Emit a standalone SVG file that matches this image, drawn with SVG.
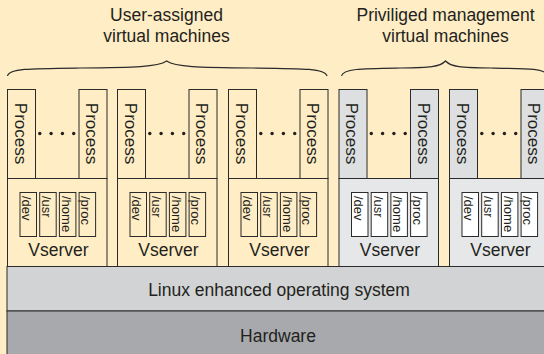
<svg xmlns="http://www.w3.org/2000/svg" width="544" height="354" viewBox="0 0 544 354">
<defs>
<style>
.bg{fill:#FFEDC5}
.t{font-family:"Liberation Sans",Arial,sans-serif;fill:#231F20}
.lbl{font-size:17.5px;text-anchor:middle}
.proc{font-size:17px;text-anchor:middle}
.dir{font-size:13px}
.box{stroke:#2B2B2B;stroke-width:1}
.u{fill:#FFEDC5}
.pp{fill:#DEDFE0}
.pv{fill:#E6E7E8}
.pd{fill:#FFFFFF}
.brace{fill:none;stroke:#2B2B2B;stroke-width:1.2}
.dot{fill:#231F20}
</style>
<g id="vmtpl-dots">
<circle class="dot" cx="32.3" cy="133.5" r="1.7"/>
<circle class="dot" cx="43.6" cy="133.5" r="1.7"/>
<circle class="dot" cx="54.9" cy="133.5" r="1.7"/>
<circle class="dot" cx="66.2" cy="133.5" r="1.7"/>
</g>
</defs>
<rect class="bg" x="0" y="0" width="544" height="354"/>

<g id="label-user">
<text class="t lbl" x="166.5" y="21">User-assigned</text>
<text class="t lbl" x="166.5" y="42">virtual machines</text>
</g>
<g id="label-priv">
<text class="t lbl" x="445.5" y="21">Priviliged management</text>
<text class="t lbl" x="445.5" y="42">virtual machines</text>
</g>
<g id="braces">
<path class="brace" d="M7.5,76 C9,68.5 30,68.5 80,68 C135,67.5 158,67 166.7,61 C175,67 198,67.5 253,68 C303,68.5 325,68.5 327,76"/>
<path class="brace" d="M341.5,76 C343,68.5 362,68.5 400,68 C430,67.5 440,67 445.5,61 C451,67 461,67.5 491,68 C529,68.5 546,68.5 548,76"/>
</g>

<g id="vm1" transform="translate(7.5,0)">
<rect class="box u" x="0" y="89.5" width="28" height="89"/>
<rect class="box u" x="71.5" y="89.5" width="28" height="89"/>
<use href="#vmtpl-dots"/>
<text class="t proc" transform="translate(7,133.5) rotate(90)">Process</text>
<text class="t proc" transform="translate(78.5,133.5) rotate(90)">Process</text>
<rect class="box u" x="0" y="178.5" width="99.5" height="88"/>
<rect class="box u" x="12.5" y="192.5" width="16.5" height="44"/>
<rect class="box u" x="32.2" y="192.5" width="16.5" height="44"/>
<rect class="box u" x="51.9" y="192.5" width="16.5" height="44"/>
<rect class="box u" x="71.6" y="192.5" width="16.5" height="44"/>
<text class="t dir" transform="translate(14.8,196) rotate(90)">/dev</text>
<text class="t dir" transform="translate(34.5,196) rotate(90)">/usr</text>
<text class="t dir" transform="translate(54.2,196) rotate(90)">/home</text>
<text class="t dir" transform="translate(73.9,196) rotate(90)">/proc</text>
<text class="t lbl" x="51" y="256">Vserver</text>
</g>

<g id="vm2" transform="translate(117.5,0)">
<rect class="box u" x="0" y="89.5" width="28" height="89"/>
<rect class="box u" x="71.5" y="89.5" width="28" height="89"/>
<use href="#vmtpl-dots"/>
<text class="t proc" transform="translate(7,133.5) rotate(90)">Process</text>
<text class="t proc" transform="translate(78.5,133.5) rotate(90)">Process</text>
<rect class="box u" x="0" y="178.5" width="99.5" height="88"/>
<rect class="box u" x="12.5" y="192.5" width="16.5" height="44"/>
<rect class="box u" x="32.2" y="192.5" width="16.5" height="44"/>
<rect class="box u" x="51.9" y="192.5" width="16.5" height="44"/>
<rect class="box u" x="71.6" y="192.5" width="16.5" height="44"/>
<text class="t dir" transform="translate(14.8,196) rotate(90)">/dev</text>
<text class="t dir" transform="translate(34.5,196) rotate(90)">/usr</text>
<text class="t dir" transform="translate(54.2,196) rotate(90)">/home</text>
<text class="t dir" transform="translate(73.9,196) rotate(90)">/proc</text>
<text class="t lbl" x="51" y="256">Vserver</text>
</g>

<g id="vm3" transform="translate(228.5,0)">
<rect class="box u" x="0" y="89.5" width="28" height="89"/>
<rect class="box u" x="71.5" y="89.5" width="28" height="89"/>
<use href="#vmtpl-dots"/>
<text class="t proc" transform="translate(7,133.5) rotate(90)">Process</text>
<text class="t proc" transform="translate(78.5,133.5) rotate(90)">Process</text>
<rect class="box u" x="0" y="178.5" width="99.5" height="88"/>
<rect class="box u" x="12.5" y="192.5" width="16.5" height="44"/>
<rect class="box u" x="32.2" y="192.5" width="16.5" height="44"/>
<rect class="box u" x="51.9" y="192.5" width="16.5" height="44"/>
<rect class="box u" x="71.6" y="192.5" width="16.5" height="44"/>
<text class="t dir" transform="translate(14.8,196) rotate(90)">/dev</text>
<text class="t dir" transform="translate(34.5,196) rotate(90)">/usr</text>
<text class="t dir" transform="translate(54.2,196) rotate(90)">/home</text>
<text class="t dir" transform="translate(73.9,196) rotate(90)">/proc</text>
<text class="t lbl" x="51" y="256">Vserver</text>
</g>

<g id="vm4" transform="translate(339,0)">
<rect class="box pp" x="0" y="89.5" width="28" height="89"/>
<rect class="box pp" x="71.5" y="89.5" width="28" height="89"/>
<use href="#vmtpl-dots"/>
<text class="t proc" transform="translate(7,133.5) rotate(90)">Process</text>
<text class="t proc" transform="translate(78.5,133.5) rotate(90)">Process</text>
<rect class="box pv" x="0" y="178.5" width="99.5" height="88"/>
<rect class="box pd" x="12.5" y="192.5" width="16.5" height="44"/>
<rect class="box pd" x="32.2" y="192.5" width="16.5" height="44"/>
<rect class="box pd" x="51.9" y="192.5" width="16.5" height="44"/>
<rect class="box pd" x="71.6" y="192.5" width="16.5" height="44"/>
<text class="t dir" transform="translate(14.8,196) rotate(90)">/dev</text>
<text class="t dir" transform="translate(34.5,196) rotate(90)">/usr</text>
<text class="t dir" transform="translate(54.2,196) rotate(90)">/home</text>
<text class="t dir" transform="translate(73.9,196) rotate(90)">/proc</text>
<text class="t lbl" x="51" y="256">Vserver</text>
</g>

<g id="vm5" transform="translate(449.5,0)">
<rect class="box pp" x="0" y="89.5" width="28" height="89"/>
<rect class="box pp" x="71.5" y="89.5" width="28" height="89"/>
<use href="#vmtpl-dots"/>
<text class="t proc" transform="translate(7,133.5) rotate(90)">Process</text>
<text class="t proc" transform="translate(78.5,133.5) rotate(90)">Process</text>
<rect class="box pv" x="0" y="178.5" width="99.5" height="88"/>
<rect class="box pd" x="12.5" y="192.5" width="16.5" height="44"/>
<rect class="box pd" x="32.2" y="192.5" width="16.5" height="44"/>
<rect class="box pd" x="51.9" y="192.5" width="16.5" height="44"/>
<rect class="box pd" x="71.6" y="192.5" width="16.5" height="44"/>
<text class="t dir" transform="translate(14.8,196) rotate(90)">/dev</text>
<text class="t dir" transform="translate(34.5,196) rotate(90)">/usr</text>
<text class="t dir" transform="translate(54.2,196) rotate(90)">/home</text>
<text class="t dir" transform="translate(73.9,196) rotate(90)">/proc</text>
<text class="t lbl" x="51" y="256">Vserver</text>
</g>

<g id="linux">
<rect class="box" fill="#D1D3D4" x="7" y="266.5" width="545" height="44.5"/>
<text class="t lbl" x="279" y="296">Linux enhanced operating system</text>
</g>
<g id="hardware">
<rect class="box" fill="#A7A9AC" x="7" y="311" width="545" height="50"/>
<text class="t lbl" x="278" y="342">Hardware</text>
</g>
<g id="connectors"></g>
</svg>
